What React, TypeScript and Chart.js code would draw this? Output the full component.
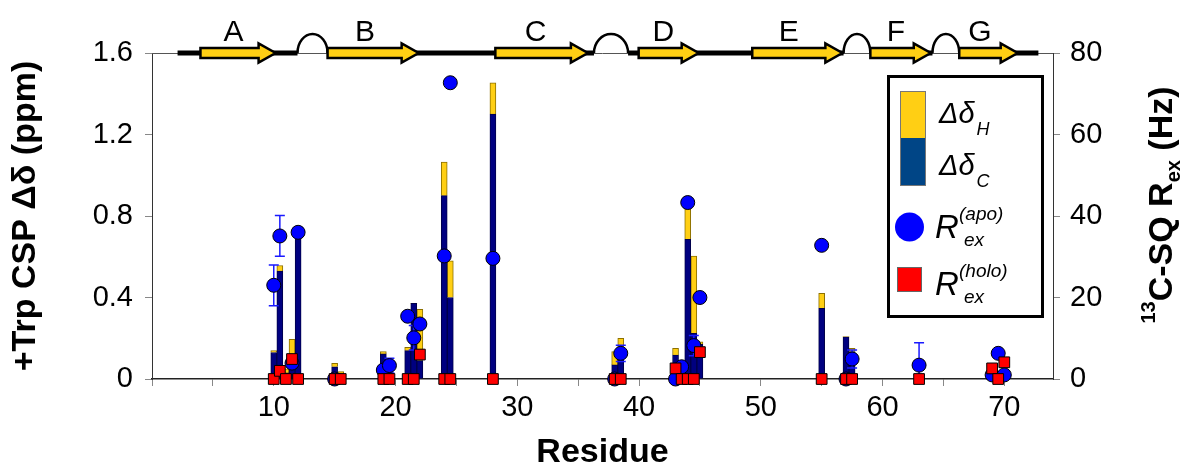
import React, { useEffect, useRef } from 'react';
import { Chart, registerables } from 'chart.js';

Chart.register(...registerables);

// ---- data ----
const barResidues = [10, 10.5, 11, 11.5, 12, 15, 15.5, 19, 19.5, 21, 21.5, 22, 24, 24.5, 28, 38, 38.5, 43, 44, 44.5, 45, 55, 57, 57.5];
const deltaC = [0.13, 0.53, 0.03, 0.09, 0.72, 0.06, 0.025, 0.123, 0.04, 0.139, 0.371, 0.09, 0.9, 0.4, 1.3, 0.069, 0.15, 0.118, 0.686, 0.224, 0.17, 0.347, 0.207, 0.135];
const deltaH = [0.01, 0.027, 0.02, 0.105, 0, 0.017, 0.011, 0.012, 0, 0.017, 0, 0.252, 0.165, 0.18, 0.154, 0.065, 0.05, 0.032, 0.164, 0.379, 0.013, 0.073, 0, 0.015];

const apoResidues = [10, 10.5, 11.5, 12, 15, 19, 19.5, 21, 21.5, 22, 24, 24.5, 28, 38, 38.5, 43, 43.5, 44, 44.5, 45, 55, 57, 57.5, 63, 69, 69.5, 70];
const apoRex = [23.0, 35.1, 3.9, 36.0, 0, 2.2, 3.3, 15.4, 10.1, 13.5, 30.2, 72.7, 29.6, 0, 6.3, 0, 3.0, 43.3, 8.2, 20.0, 32.8, 0, 4.9, 3.4, 1.0, 6.3, 1.0];
const apoErr = [5.0, 5.0, 0, 0, 0, 0, 1.8, 0, 3.0, 0, 0, 0, 0, 0, 2.0, 0, 0, 0, 2.5, 0, 0, 0, 2.2, 5.5, 0, 0, 0];

const holoResidues = [10, 10.5, 11, 11.5, 12, 15, 15.5, 19, 19.5, 21, 21.5, 22, 24, 24.5, 28, 38, 38.5, 43, 43.5, 44, 44.5, 45, 55, 57, 57.5, 63, 69, 69.5, 70];
const holoRex = [0, 2.0, 0, 4.9, 0, 0, 0, 0, 0, 0, 0, 6.0, 0, 0, 0, 0, 0, 2.6, 0, 0, 0, 6.6, 0, 0, 0, 0, 2.6, 0, 4.1];

const xTickValues = [0, 5, 10, 15, 20, 25, 30, 35, 40, 45, 50, 55, 60, 65, 70];
const xLabelValues = [10, 20, 30, 40, 50, 60, 70];
const leftTicks = [0, 0.4, 0.8, 1.2, 1.6];
const leftTickLabels = ['0', '0.4', '0.8', '1.2', '1.6'];
const rightTicks = [0, 20, 40, 60, 80];
const rightTickLabels = ['0', '20', '40', '60', '80'];

// secondary structure (residue units)
const strandLabels = ['A', 'B', 'C', 'D', 'E', 'F', 'G'];
const strandStart = [3.98, 14.42, 28.2, 39.97, 49.3, 59.0, 66.3];
const strandEnd = [10.15, 21.9, 35.8, 44.9, 56.7, 63.96, 71.1];
const strandLabelPos = [6.7, 17.5, 31.5, 42.0, 52.3, 61.1, 68.0];
const loopStart = [11.95, 36.3, 56.8, 64.1];
const loopEnd = [14.42, 39.1, 59.0, 66.3];
const backboneRange = [2.1, 72.8];

const FONT = '"Liberation Sans", Arial, sans-serif';
const NAVY = '#000080';
const GOLD = '#FFCF14';

const overlayPlugin = {
  id: 'overlay',
  beforeDatasetDraw(chart: any, args: any) {
    if (args.index !== 2) return;
    const xs = chart.scales.x;
    const y2 = chart.scales.y2;
    const ctx = chart.ctx;
    ctx.save();
    ctx.strokeStyle = '#1a1aff';
    ctx.lineWidth = 1.5;
    apoResidues.forEach((r, i) => {
      const e = apoErr[i];
      if (!e) return;
      const px = xs.getPixelForValue(r);
      const top = y2.getPixelForValue(apoRex[i] + e);
      const lowVal = apoRex[i] - e;
      const bot = y2.getPixelForValue(Math.max(0, lowVal));
      ctx.beginPath();
      ctx.moveTo(px, top);
      ctx.lineTo(px, bot);
      ctx.moveTo(px - 5, top);
      ctx.lineTo(px + 5, top);
      if (lowVal > 0) {
        ctx.moveTo(px - 5, bot);
        ctx.lineTo(px + 5, bot);
      }
      ctx.stroke();
    });
    ctx.restore();
  },
  afterDraw(chart: any) {
    const ctx = chart.ctx;
    const xs = chart.scales.x;
    const area = chart.chartArea;
    const yTop = area.top;
    ctx.save();

    // top frame line
    ctx.strokeStyle = '#555';
    ctx.lineWidth = 1;
    ctx.beginPath();
    ctx.moveTo(area.left, yTop + 0.5);
    ctx.lineTo(area.right, yTop + 0.5);
    ctx.stroke();

    // backbone segments (backbone minus loops)
    const segs: number[][] = [];
    let s = backboneRange[0];
    loopStart.forEach((ls, i) => {
      segs.push([s, ls]);
      s = loopEnd[i];
    });
    segs.push([s, backboneRange[1]]);
    ctx.strokeStyle = '#000';
    ctx.lineWidth = 5;
    ctx.lineCap = 'butt';
    segs.forEach(([a, b]) => {
      ctx.beginPath();
      ctx.moveTo(xs.getPixelForValue(a), yTop);
      ctx.lineTo(xs.getPixelForValue(b), yTop);
      ctx.stroke();
    });

    // loops
    ctx.lineWidth = 2.5;
    loopStart.forEach((ls, i) => {
      const xa = xs.getPixelForValue(ls);
      const xb = xs.getPixelForValue(loopEnd[i]);
      ctx.beginPath();
      ctx.ellipse((xa + xb) / 2, yTop, (xb - xa) / 2, 19, 0, Math.PI, 2 * Math.PI);
      ctx.stroke();
    });

    // strands
    ctx.lineJoin = 'miter';
    strandStart.forEach((st, i) => {
      const x0 = xs.getPixelForValue(st);
      const x1 = xs.getPixelForValue(strandEnd[i]);
      const hb = 5, hh = 9.5, hl = 17;
      ctx.beginPath();
      ctx.moveTo(x0, yTop - hb);
      ctx.lineTo(x1 - hl, yTop - hb);
      ctx.lineTo(x1 - hl, yTop - hh);
      ctx.lineTo(x1, yTop);
      ctx.lineTo(x1 - hl, yTop + hh);
      ctx.lineTo(x1 - hl, yTop + hb);
      ctx.lineTo(x0, yTop + hb);
      ctx.closePath();
      ctx.fillStyle = GOLD;
      ctx.fill();
      ctx.lineWidth = 2.5;
      ctx.strokeStyle = '#000';
      ctx.stroke();
    });

    // strand labels
    ctx.fillStyle = '#000';
    ctx.font = `30px ${FONT}`;
    ctx.textAlign = 'center';
    ctx.textBaseline = 'alphabetic';
    strandLabels.forEach((lab, i) => {
      ctx.fillText(lab, xs.getPixelForValue(strandLabelPos[i]), 41);
    });

    // legend box
    ctx.fillStyle = '#fff';
    ctx.fillRect(888, 76, 155, 241);
    ctx.strokeStyle = '#000';
    ctx.lineWidth = 3;
    ctx.strokeRect(888.5, 76.5, 154, 240);

    ctx.fillStyle = GOLD;
    ctx.fillRect(900, 91, 26, 47);
    ctx.fillStyle = '#004586';
    ctx.fillRect(900, 138, 26, 48);
    ctx.strokeStyle = '#777';
    ctx.lineWidth = 1;
    ctx.strokeRect(900.5, 91.5, 25, 94);

    ctx.fillStyle = '#0000ff';
    ctx.beginPath();
    ctx.arc(909.5, 227, 14.5, 0, Math.PI * 2);
    ctx.fill();

    ctx.fillStyle = '#ff0000';
    ctx.fillRect(897, 267, 25, 25);
    ctx.strokeStyle = '#666';
    ctx.strokeRect(897.5, 267.5, 24, 24);

    ctx.fillStyle = '#000';
    ctx.textAlign = 'left';
    const drawDelta = (sub: string, base: number) => {
      ctx.font = `italic 29px ${FONT}`;
      ctx.fillText('Δδ', 939, base);
      const w = ctx.measureText('Δδ').width;
      ctx.font = `italic 18px ${FONT}`;
      ctx.fillText(sub, 939 + w + 2, base + 12);
    };
    drawDelta('H', 123);
    drawDelta('C', 175);
    const drawR = (sup: string, base: number) => {
      ctx.font = `italic 33px ${FONT}`;
      ctx.fillText('R', 935, base);
      ctx.font = `italic 19px ${FONT}`;
      ctx.fillText(sup, 959, base - 18);
      ctx.fillText('ex', 964, base + 8);
    };
    drawR('(apo)', 238);
    drawR('(holo)', 295);

    // right axis title
    const pieces: [string, string, number][] = [
      ['13', `bold 20px ${FONT}`, -17],
      ['C-SQ R', `bold 34px ${FONT}`, 0],
      ['ex', `bold 20px ${FONT}`, 8],
      [' (Hz)', `bold 34px ${FONT}`, 0],
    ];
    let total = 0;
    const widths = pieces.map(([t, f]) => {
      ctx.font = f;
      const w = ctx.measureText(t).width;
      total += w;
      return w;
    });
    ctx.translate(1172, 205);
    ctx.rotate(-Math.PI / 2);
    let cx = -total / 2;
    pieces.forEach(([t, f, dy], i) => {
      ctx.font = f;
      ctx.fillText(t, cx, dy);
      cx += widths[i];
    });

    ctx.restore();
  },
};

export default function App() {
  const ref = useRef<HTMLCanvasElement>(null);
  useEffect(() => {
    document.body.style.margin = '0';
    Chart.defaults.font.family = FONT;
    Chart.defaults.color = '#000';

    const config: any = {
      type: 'bar',
      data: {
        datasets: [
          {
            label: 'ΔδC',
            data: barResidues.map((x, i) => ({ x, y: deltaC[i] })),
            backgroundColor: NAVY,
            borderColor: '#00004a',
            borderWidth: 1,
            barThickness: 6,
            stack: 'csp',
            yAxisID: 'y',
            order: 3,
          },
          {
            label: 'ΔδH',
            data: barResidues.map((x, i) => ({ x, y: deltaH[i] })),
            backgroundColor: GOLD,
            borderColor: '#8c7000',
            borderWidth: (c: any) => (deltaH[c.dataIndex] > 0 ? 1 : 0),
            barThickness: 6,
            stack: 'csp',
            yAxisID: 'y',
            order: 3,
          },
          {
            type: 'scatter',
            label: 'Rex apo',
            data: apoResidues.map((x, i) => ({ x, y: apoRex[i] })),
            backgroundColor: '#0000ff',
            borderColor: '#000',
            borderWidth: 1,
            pointRadius: 7,
            pointStyle: 'circle',
            yAxisID: 'y2',
            clip: false,
            order: 2,
          },
          {
            type: 'scatter',
            label: 'Rex holo',
            data: holoResidues.map((x, i) => ({ x, y: holoRex[i] })),
            backgroundColor: '#ff0000',
            borderColor: '#000',
            borderWidth: 1,
            pointRadius: 7.6,
            pointStyle: 'rect',
            yAxisID: 'y2',
            clip: false,
            order: 1,
          },
        ],
      },
      options: {
        responsive: false,
        animation: false,
        devicePixelRatio: 1,
        layout: { padding: { top: 53, left: 0, right: 0, bottom: 0 } },
        plugins: { legend: { display: false }, tooltip: { enabled: false } },
        scales: {
          x: {
            type: 'linear',
            min: 0,
            max: 74,
            offset: false,
            afterBuildTicks: (sc: any) => {
              sc.ticks = xTickValues.map((v) => ({ value: v }));
            },
            ticks: {
              autoSkip: false,
              maxRotation: 0,
              padding: 5,
              font: { size: 29 },
              callback: (v: number) => (xLabelValues.includes(v) ? String(v) : ''),
            },
            grid: { display: true, drawOnChartArea: false, drawTicks: true, tickLength: 7, tickColor: '#888', offset: false },
            border: { display: true, color: '#222', width: 1.5 },
            title: { display: true, text: 'Residue', font: { size: 34, weight: 'bold', lineHeight: 0.74 }, padding: 0 },
            afterFit: (sc: any) => {
              sc.height = 86;
            },
          },
          y: {
            position: 'left',
            min: 0,
            max: 1.6,
            stacked: true,
            afterBuildTicks: (sc: any) => {
              sc.ticks = leftTicks.map((v) => ({ value: v }));
            },
            ticks: {
              padding: 12,
              font: { size: 29 },
              callback: (_v: number, i: number) => leftTickLabels[i],
            },
            grid: { display: true, drawOnChartArea: false, drawTicks: true, tickLength: 7, tickColor: '#888' },
            border: { display: true, color: '#333', width: 1 },
            title: { display: true, text: '+Trp CSP Δδ (ppm)', font: { size: 34, weight: 'bold' }, padding: { top: 5, bottom: 0 } },
            afterFit: (sc: any) => {
              sc.width = 152;
            },
          },
          y2: {
            position: 'right',
            min: 0,
            max: 80,
            afterBuildTicks: (sc: any) => {
              sc.ticks = rightTicks.map((v) => ({ value: v }));
            },
            ticks: {
              padding: 10,
              font: { size: 29 },
              callback: (_v: number, i: number) => rightTickLabels[i],
            },
            grid: { display: true, drawOnChartArea: false, drawTicks: true, tickLength: 7, tickColor: '#888' },
            border: { display: true, color: '#333', width: 1 },
            afterFit: (sc: any) => {
              sc.width = 128;
            },
          },
        },
      },
      plugins: [overlayPlugin],
    };

    const chart = new Chart(ref.current as HTMLCanvasElement, config);
    return () => chart.destroy();
  }, []);

  return (
    <div style={{ width: 1181, height: 465, background: '#fff' }}>
      <canvas ref={ref} width={1181} height={465} style={{ display: 'block' }} />
    </div>
  );
}
